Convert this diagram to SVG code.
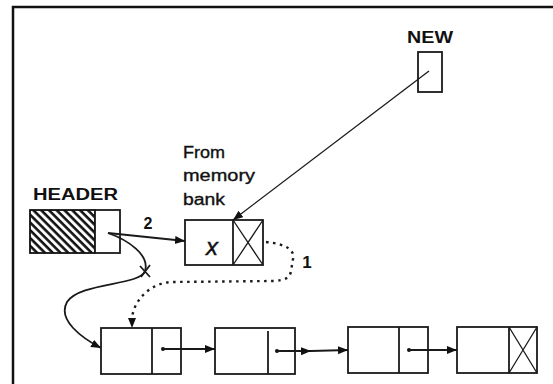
<svg xmlns="http://www.w3.org/2000/svg" width="553" height="384" viewBox="0 0 553 384">
  <style>
    .box { fill: #fff; stroke: #1a1a1a; stroke-width: 1.8; }
    .ln { fill: none; stroke: #1a1a1a; stroke-width: 1.8; }
    .thin { fill: none; stroke: #1a1a1a; stroke-width: 1.3; }
    .dot { fill: none; stroke: #1a1a1a; stroke-width: 2.4; stroke-dasharray: 2.5 4.5; }
    .lbl { font-family: "Liberation Sans", Arial, sans-serif; fill: #111; }
    .b { font-weight: bold; }
  </style>
  <defs>
    <pattern id="hatch" patternUnits="userSpaceOnUse" width="5.5" height="5.5" patternTransform="rotate(-45)">
      <rect width="5.5" height="5.5" fill="#fff"/>
      <line x1="1.5" y1="0" x2="1.5" y2="5.5" stroke="#111" stroke-width="2.6"/>
    </pattern>
    <marker id="arr" markerUnits="userSpaceOnUse" markerWidth="12" markerHeight="10" refX="10" refY="4" orient="auto">
      <path d="M0,0 L10,4 L0,8 z" fill="#111"/>
    </marker>
  </defs>

  <!-- outer frame -->
  <rect x="13" y="7" width="570" height="420" fill="none" stroke="#111" stroke-width="2.5"/>

  <!-- NEW pointer -->
  <g id="new">
    <text class="lbl b" x="430" y="43" font-size="17" text-anchor="middle" textLength="46" lengthAdjust="spacingAndGlyphs">NEW</text>
    <rect class="box" x="418" y="52" width="24" height="40"/>
  </g>

  <!-- HEADER node -->
  <g id="header">
    <text class="lbl b" x="33" y="200" font-size="16" textLength="85" lengthAdjust="spacingAndGlyphs">HEADER</text>
    <rect x="30" y="210" width="65" height="43" fill="url(#hatch)" stroke="#111" stroke-width="1.8"/>
    <rect class="box" x="95" y="210" width="25" height="43"/>
  </g>

  <!-- newly allocated node -->
  <g id="new-node">
    <text class="lbl" font-size="16" stroke="#111" stroke-width="0.35">
      <tspan x="183" y="158" textLength="42" lengthAdjust="spacingAndGlyphs">From</tspan>
      <tspan x="183" y="181" textLength="72" lengthAdjust="spacingAndGlyphs">memory</tspan>
      <tspan x="183" y="205" textLength="42" lengthAdjust="spacingAndGlyphs">bank</tspan>
    </text>
    <rect class="box" x="185" y="220" width="78" height="45"/>
    <line class="ln" x1="233" y1="220" x2="233" y2="265"/>
    <path class="thin" d="M233,220 L263,265 M263,220 L233,265"/>
    <text class="lbl" x="212" y="255" font-size="24" font-style="italic" text-anchor="middle" stroke="#111" stroke-width="0.4">x</text>
  </g>

  <!-- list nodes -->
  <g id="node1">
    <rect class="box" x="101" y="328" width="80" height="46"/>
    <line class="ln" x1="152" y1="328" x2="152" y2="374"/>
  </g>
  <g id="node2">
    <rect class="box" x="215" y="328" width="80" height="46"/>
    <line class="ln" x1="268" y1="331" x2="268" y2="374"/>
  </g>
  <g id="node3">
    <rect class="box" x="348" y="327" width="80" height="46"/>
    <line class="ln" x1="399" y1="327" x2="399" y2="373"/>
  </g>
  <g id="node4">
    <rect class="box" x="457" y="327" width="80" height="46"/>
    <line class="ln" x1="509" y1="327" x2="509" y2="373"/>
    <path class="thin" d="M509,327 L537,373 M537,327 L509,373"/>
  </g>

  <!-- connectors -->
  <g id="connectors">
    <path class="thin" d="M429,71 L233,220" marker-end="url(#arr)"/>
    <path class="ln" d="M108,233 L185,241" marker-end="url(#arr)"/>
    <text class="lbl b" x="148" y="229" font-size="16" text-anchor="middle">2</text>

    <!-- old header link, broken -->
    <path class="ln" d="M108,233 C128,240 150,255 145,271 C140,286 80,282 67,302 C57,320 82,338 101,348" marker-end="url(#arr)"/>
    <path class="ln" d="M140,266 L150,277 M150,265 L141,277"/>

    <!-- new node link to old first node -->
    <path class="dot" d="M266,242 C286,244 295,250 293,259 L291,271 C290,278 285,280 274,281 L172,282 C150,283 134,300 132,318"/>
    <path d="M128,318 L136,318 L132,328 z" fill="#111"/>
    <text class="lbl b" x="307" y="268" font-size="17" text-anchor="middle">1</text>

    <circle cx="163" cy="349" r="2" fill="#111"/>
    <path class="ln" d="M163,349 L215,349" marker-end="url(#arr)"/>
    <circle cx="277" cy="351" r="2" fill="#111"/>
    <path class="ln" d="M277,351 L311,351 L348,350" marker-mid="url(#arr)" marker-end="url(#arr)"/>
    <circle cx="409" cy="350" r="2" fill="#111"/>
    <path class="ln" d="M409,350 L457,350" marker-end="url(#arr)"/>
  </g>
</svg>
